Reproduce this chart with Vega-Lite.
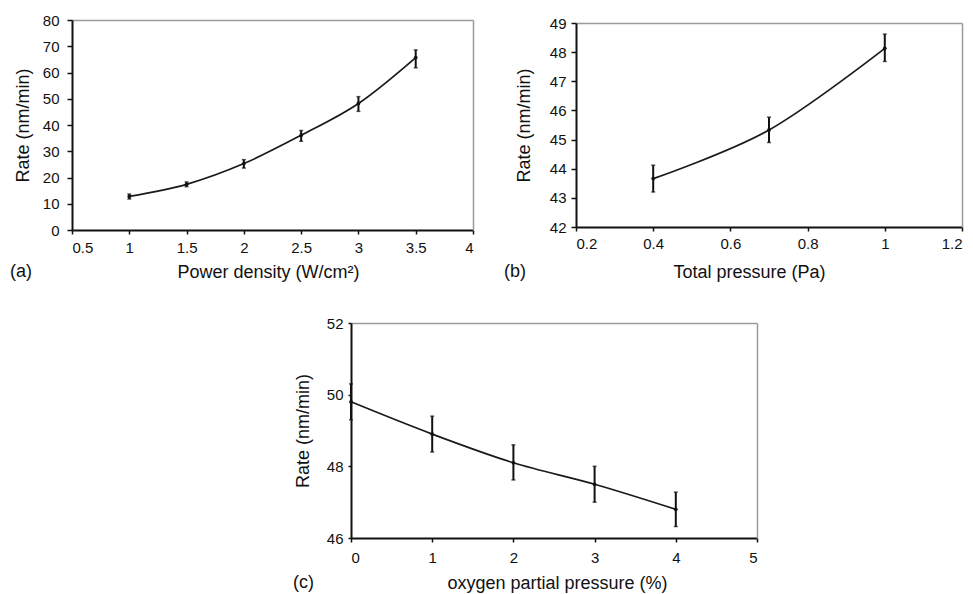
{
  "$schema": "https://vega.github.io/schema/vega-lite/v6.json",
  "padding": {"left": 10, "top": 10, "right": 5, "bottom": 2},
  "background": "white",
  "datasets": {
    "a": [
      {"x": 1, "y": 12.8, "lo": 11.8, "hi": 13.7},
      {"x": 1.5, "y": 17.4, "lo": 16.5, "hi": 18.3},
      {"x": 2, "y": 25.3, "lo": 23.6, "hi": 26.8},
      {"x": 2.5, "y": 36.1, "lo": 33.8, "hi": 37.9},
      {"x": 3, "y": 48.2, "lo": 45.2, "hi": 50.8},
      {"x": 3.5, "y": 65.7, "lo": 61.8, "hi": 68.6}
    ],
    "b": [
      {"x": 0.4, "y": 43.66, "lo": 43.2, "hi": 44.12},
      {"x": 0.7, "y": 45.33, "lo": 44.9, "hi": 45.77},
      {"x": 1.0, "y": 48.13, "lo": 47.68, "hi": 48.62}
    ],
    "c": [
      {"x": 0, "y": 49.8, "lo": 49.3, "hi": 50.3},
      {"x": 1, "y": 48.9, "lo": 48.4, "hi": 49.4},
      {"x": 2, "y": 48.1, "lo": 47.62, "hi": 48.6},
      {"x": 3, "y": 47.5, "lo": 47.0, "hi": 48.0},
      {"x": 4, "y": 46.8, "lo": 46.32, "hi": 47.28}
    ]
  },
  "vconcat": [
    {
      "hconcat": [
        {
          "width": 401,
          "height": 210,
          "data": {"name": "a"},
          "title": {"text": "(a)", "orient": "bottom", "anchor": "start", "frame": "group", "offset": -18, "dx": -62, "baseline": "top", "fontSize": 18, "font": "Liberation Sans", "fontWeight": "normal", "color": "#111"},
          "layer": [
            {
              "mark": {"type": "line", "interpolate": "cardinal", "color": "#1a1a1a", "strokeWidth": 1.7},
              "encoding": {
                "x": {"field": "x", "type": "quantitative", "scale": {"domain": [0.5, 4], "nice": false, "zero": false},
                  "axis": {"orient": "bottom", "values": [0.5, 1, 1.5, 2, 2.5, 3, 3.5, 4], "format": "~g", "title": "Power density (W/cm²)", "labelPadding": 6, "titlePadding": 8, "titleX": 196}},
                "y": {"field": "y", "type": "quantitative", "scale": {"domain": [0, 80], "nice": false, "zero": false},
                  "axis": {"orient": "left", "values": [0, 10, 20, 30, 40, 50, 60, 70, 80], "title": "Rate (nm/min)", "labelPadding": 8, "tickSize": 5, "minExtent": 62, "titleX": -40}}
              }
            },
            {
              "mark": {"type": "errorbar", "color": "#111", "thickness": 2, "ticks": {"size": 4, "thickness": 1.5, "color": "#111"}},
              "encoding": {
                "x": {"field": "x", "type": "quantitative", "scale": {"domain": [0.5, 4], "nice": false, "zero": false}, "axis": null},
                "y": {"field": "lo", "type": "quantitative", "scale": {"domain": [0, 80], "nice": false, "zero": false}, "axis": null},
                "y2": {"field": "hi"}
              }
            },
            {
              "mark": {"type": "point", "filled": true, "size": 14, "color": "#111", "opacity": 1},
              "encoding": {
                "x": {"field": "x", "type": "quantitative", "scale": {"domain": [0.5, 4], "nice": false, "zero": false},
                  "axis": {"orient": "top", "labels": false, "ticks": false, "domainColor": "#9a9a9a", "domainWidth": 1.5, "title": null, "minExtent": 10, "maxExtent": 10}},
                "y": {"field": "y", "type": "quantitative", "scale": {"domain": [0, 80], "nice": false, "zero": false},
                  "axis": {"orient": "right", "labels": false, "ticks": false, "domainColor": "#9a9a9a", "domainWidth": 1.5, "title": null, "minExtent": 0, "maxExtent": 0}}
              }
            }
          ],
          "resolve": {"axis": {"x": "independent", "y": "independent"}}
        },
        {
          "width": 386,
          "height": 207,
          "data": {"name": "b"},
          "title": {"text": "(b)", "orient": "bottom", "anchor": "start", "frame": "group", "offset": -18, "dx": -72, "baseline": "top", "fontSize": 18, "font": "Liberation Sans", "fontWeight": "normal", "color": "#111"},
          "layer": [
            {
              "mark": {"type": "line", "interpolate": "cardinal", "color": "#1a1a1a", "strokeWidth": 1.7},
              "encoding": {
                "x": {"field": "x", "type": "quantitative", "scale": {"domain": [0.2, 1.2], "nice": false, "zero": false},
                  "axis": {"orient": "bottom", "values": [0.2, 0.4, 0.6, 0.8, 1, 1.2], "format": "~g", "title": "Total pressure (Pa)", "labelPadding": 5, "titlePadding": 12, "titleX": 173}},
                "y": {"field": "y", "type": "quantitative", "scale": {"domain": [42, 49], "range": [207, 3], "nice": false, "zero": false},
                  "axis": {"orient": "left", "values": [42, 43, 44, 45, 46, 47, 48, 49], "title": "Rate (nm/min)", "labelPadding": 5, "tickSize": 5, "minExtent": 72, "titleX": -43}}
              }
            },
            {
              "mark": {"type": "errorbar", "color": "#111", "thickness": 2, "ticks": {"size": 4, "thickness": 1.5, "color": "#111"}},
              "encoding": {
                "x": {"field": "x", "type": "quantitative", "scale": {"domain": [0.2, 1.2], "nice": false, "zero": false}, "axis": null},
                "y": {"field": "lo", "type": "quantitative", "scale": {"domain": [42, 49], "range": [207, 3], "nice": false, "zero": false}, "axis": null},
                "y2": {"field": "hi"}
              }
            },
            {
              "mark": {"type": "point", "filled": true, "size": 14, "color": "#111", "opacity": 1},
              "encoding": {
                "x": {"field": "x", "type": "quantitative", "scale": {"domain": [0.2, 1.2], "nice": false, "zero": false},
                  "axis": {"orient": "top", "offset": -3, "labels": false, "ticks": false, "domainColor": "#9a9a9a", "domainWidth": 1.5, "title": null, "minExtent": 13, "maxExtent": 13}},
                "y": {"field": "y", "type": "quantitative", "scale": {"domain": [42, 49], "range": [207, 3], "nice": false, "zero": false},
                  "axis": {"orient": "right", "labels": false, "ticks": false, "domainColor": "#9a9a9a", "domainWidth": 1.5, "title": null, "minExtent": 0, "maxExtent": 0}}
              }
            }
          ],
          "resolve": {"axis": {"x": "independent", "y": "independent"}}
        }
      ],
      "spacing": 30
    },
    {
      "width": 685,
      "height": 215,
      "data": {"name": "c"},
      "title": {"text": "(c)", "orient": "bottom", "anchor": "start", "frame": "group", "offset": -18, "dx": 221, "baseline": "top", "fontSize": 18, "font": "Liberation Sans", "fontWeight": "normal", "color": "#111"},
      "layer": [
        {
          "mark": {"type": "line", "interpolate": "cardinal", "color": "#1a1a1a", "strokeWidth": 1.7},
          "encoding": {
            "x": {"field": "x", "type": "quantitative", "scale": {"domain": [0, 5], "range": [279, 685], "nice": false, "zero": false},
              "axis": {"orient": "bottom", "values": [0, 1, 2, 3, 4, 5], "format": "~g", "title": "oxygen partial pressure (%)", "labelPadding": 8, "titlePadding": 9, "titleX": 485}},
            "y": {"field": "y", "type": "quantitative", "scale": {"domain": [46, 52], "nice": false, "zero": false},
              "axis": {"orient": "left", "offset": -279, "values": [46, 48, 50, 52], "title": "Rate (nm/min)", "labelPadding": 5, "tickSize": 3, "titleX": -39}}
          }
        },
        {
          "mark": {"type": "errorbar", "color": "#111", "thickness": 2, "ticks": {"size": 4, "thickness": 1.5, "color": "#111"}},
          "encoding": {
            "x": {"field": "x", "type": "quantitative", "scale": {"domain": [0, 5], "range": [279, 685], "nice": false, "zero": false}, "axis": null},
            "y": {"field": "lo", "type": "quantitative", "scale": {"domain": [46, 52], "nice": false, "zero": false}, "axis": null},
            "y2": {"field": "hi"}
          }
        },
        {
          "mark": {"type": "point", "filled": true, "size": 14, "color": "#111", "opacity": 1},
          "encoding": {
            "x": {"field": "x", "type": "quantitative", "scale": {"domain": [0, 5], "range": [279, 685], "nice": false, "zero": false},
              "axis": {"orient": "top", "labels": false, "ticks": false, "domainColor": "#9a9a9a", "domainWidth": 1.5, "title": null, "minExtent": 10, "maxExtent": 10}},
            "y": {"field": "y", "type": "quantitative", "scale": {"domain": [46, 52], "nice": false, "zero": false},
              "axis": {"orient": "right", "labels": false, "ticks": false, "domainColor": "#9a9a9a", "domainWidth": 1.5, "title": null, "minExtent": 0, "maxExtent": 0}}
          }
        }
      ],
      "resolve": {"axis": {"x": "independent", "y": "independent"}}
    }
  ],
  "spacing": 32,
  "config": {
    "font": "Liberation Sans",
    "view": {"stroke": null},
    "axis": {
      "grid": false,
      "domainColor": "#111",
      "domainWidth": 2,
      "tickColor": "#111",
      "tickWidth": 1.5,
      "tickSize": 4,
      "labelFont": "Liberation Sans",
      "labelFontSize": 15,
      "labelColor": "#111",
      "titleFont": "Liberation Sans",
      "titleFontSize": 18,
      "titleFontWeight": "normal",
      "titleColor": "#111"
    }
  }
}
